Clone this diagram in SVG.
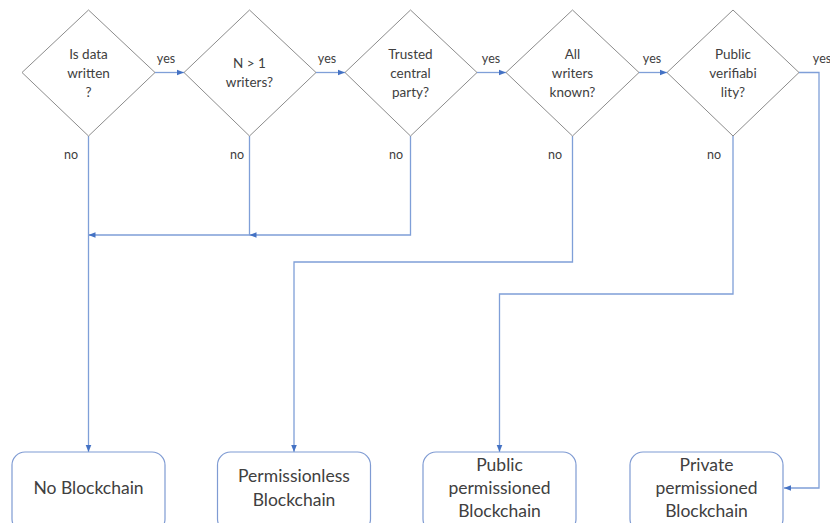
<svg xmlns="http://www.w3.org/2000/svg" width="830" height="523" viewBox="0 0 830 523">
<style>
.d{fill:#fff;stroke:#8c8c8c;stroke-width:1}
.b{fill:#fff;stroke:#7f9bd3;stroke-width:1.2}
.c{fill:none;stroke:#7f9fd8;stroke-width:1.3}
.t{font-family:Lato,"Liberation Sans",sans-serif;font-size:13.5px;fill:#404040;text-anchor:middle}
.l{font-family:Lato,"Liberation Sans",sans-serif;font-size:12.5px;fill:#404040;text-anchor:middle}
.bt{font-family:Lato,"Liberation Sans",sans-serif;font-size:17.5px;fill:#404040;text-anchor:middle}
</style>
<defs>
<marker id="a" viewBox="0 0 10 10" refX="10" refY="5" markerWidth="7" markerHeight="7" markerUnits="userSpaceOnUse" orient="auto">
<path d="M0,1 L10,5 L0,9 z" fill="#4472c4"/>
</marker>
</defs>
<rect width="830" height="523" fill="#fff"/>
<g id="connectors">
<path class="c" d="M155,72.5 H184" marker-end="url(#a)"/>
<path class="c" d="M316,72.5 H345" marker-end="url(#a)"/>
<path class="c" d="M477,72.5 H506" marker-end="url(#a)"/>
<path class="c" d="M639,72.5 H667" marker-end="url(#a)"/>
<path class="c" d="M799,72.5 H819 V488 H784" marker-end="url(#a)"/>
<path class="c" d="M88.5,136 V452" marker-end="url(#a)"/>
<path class="c" d="M249.5,136 V235 H88.5" marker-end="url(#a)"/>
<path class="c" d="M410.5,136 V235 H249.5" marker-end="url(#a)"/>
<path class="c" d="M572.5,136 V262 H294 V452" marker-end="url(#a)"/>
<path class="c" d="M733,136 V294 H499.5 V452" marker-end="url(#a)"/>
<text class="l" x="166" y="63">yes</text>
<text class="l" x="327" y="63">yes</text>
<text class="l" x="491" y="63">yes</text>
<text class="l" x="652" y="63">yes</text>
<text class="l" x="822" y="63">yes</text>
<text class="l" x="71" y="159">no</text>
<text class="l" x="237" y="159">no</text>
<text class="l" x="396" y="159">no</text>
<text class="l" x="555" y="159">no</text>
<text class="l" x="714" y="159">no</text>
</g>
<g id="d1">
<polygon class="d" points="88.5,10 155,72.5 88.5,136 22,72.5"/>
<text class="t" x="88.5" y="59">Is data</text>
<text class="t" x="88.5" y="78">written</text>
<text class="t" x="88.5" y="97">?</text>
</g>
<g id="d2">
<polygon class="d" points="249.5,10 316,72.5 249.5,136 184,72.5"/>
<text class="t" x="249.5" y="68">N &gt; 1</text>
<text class="t" x="249.5" y="87">writers?</text>
</g>
<g id="d3">
<polygon class="d" points="410.5,10 477,72.5 410.5,136 345,72.5"/>
<text class="t" x="410.5" y="59">Trusted</text>
<text class="t" x="410.5" y="78">central</text>
<text class="t" x="410.5" y="97">party?</text>
</g>
<g id="d4">
<polygon class="d" points="572.5,10 639,72.5 572.5,136 506,72.5"/>
<text class="t" x="572.5" y="59">All</text>
<text class="t" x="572.5" y="78">writers</text>
<text class="t" x="572.5" y="97">known?</text>
</g>
<g id="d5">
<polygon class="d" points="733,10 799,72.5 733,136 667,72.5"/>
<text class="t" x="733" y="59">Public</text>
<text class="t" x="733" y="78">verifiabi</text>
<text class="t" x="733" y="97">lity?</text>
</g>
<g id="b1">
<rect class="b" x="12" y="452" width="153" height="80" rx="13"/>
<text class="bt" x="88.5" y="494">No Blockchain</text>
</g>
<g id="b2">
<rect class="b" x="217.5" y="452" width="153" height="80" rx="13"/>
<text class="bt" x="294" y="482">Permissionless</text>
<text class="bt" x="294" y="506">Blockchain</text>
</g>
<g id="b3">
<rect class="b" x="423" y="452" width="153" height="80" rx="13"/>
<text class="bt" x="499.5" y="471">Public</text>
<text class="bt" x="499.5" y="494">permissioned</text>
<text class="bt" x="499.5" y="517">Blockchain</text>
</g>
<g id="b4">
<rect class="b" x="630" y="452" width="153" height="80" rx="13"/>
<text class="bt" x="706.5" y="471">Private</text>
<text class="bt" x="706.5" y="494">permissioned</text>
<text class="bt" x="706.5" y="517">Blockchain</text>
</g>
</svg>
